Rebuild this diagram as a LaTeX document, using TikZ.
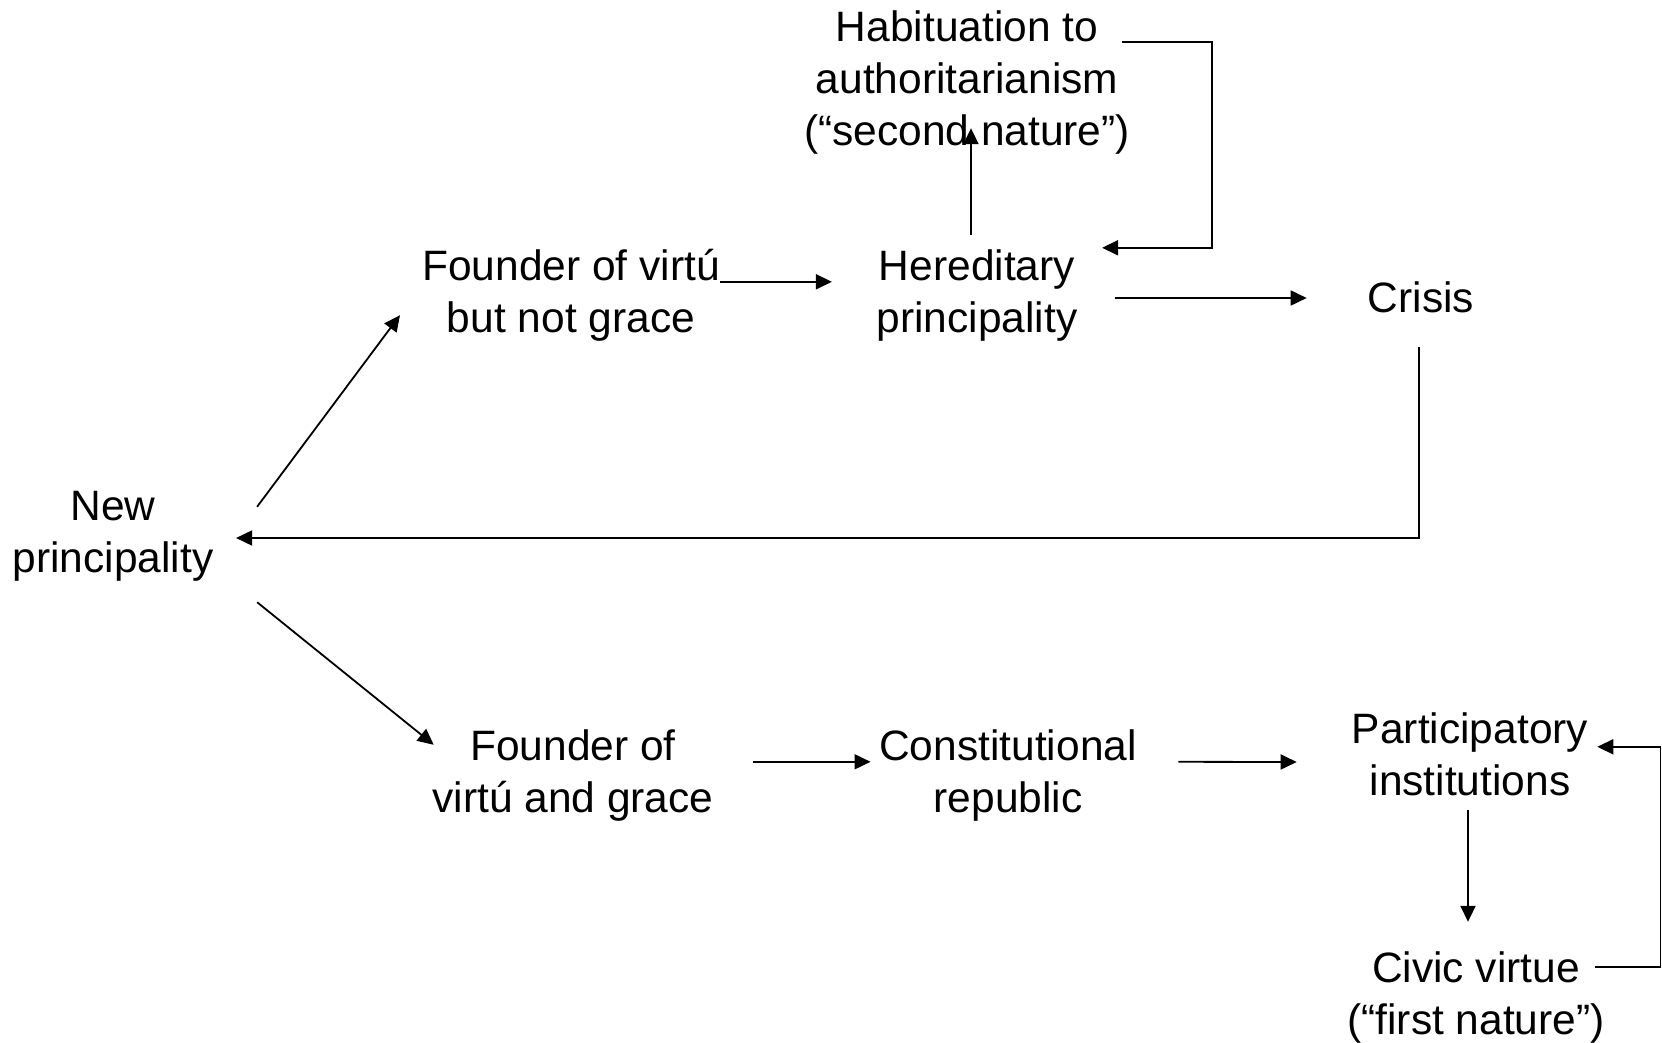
\documentclass[tikz,border=0pt]{standalone}
\usepackage{fontspec}
\setmainfont{Liberation Sans}
\usetikzlibrary{arrows.meta}
\newcommand{\lns}[1]{\begin{tabular}[t]{@{}c@{}}#1\end{tabular}}
\setlength{\tabcolsep}{0pt}
\begin{document}
\begin{tikzpicture}[x=1pt,y=-1pt,
  lbl/.style={anchor=base,inner sep=0pt,font=\fontsize{42.5}{52}\selectfont},
  arr/.style={line width=1.8pt,-{Triangle[length=16pt,width=15pt]}}]
\useasboundingbox (0,0) rectangle (1662,1043);
\node[lbl] (hab) at (967,42) {\lns{Habituation to\\authoritarianism\\(“second nature”)}};
\node[lbl] (fnd1) at (571,280) {\lns{Founder of virtú\\but not grace}};
\node[lbl] (her) at (977,280) {\lns{Hereditary\\principality}};
\node[lbl] (cri) at (1421,312) {\lns{Crisis}};
\node[lbl] (newp) at (113,520) {\lns{New\\principality}};
\node[lbl] (fnd2) at (573,760) {\lns{Founder of\\virtú and grace}};
\node[lbl] (con) at (1008,760) {\lns{Constitutional\\republic}};
\node[lbl] (par) at (1470,743) {\lns{Participatory\\institutions}};
\node[lbl] (civ) at (1476,982) {\lns{Civic virtue\\(“first nature”)}};

\draw[arr] ([shift={(0,38.4)}]fnd1.north east) -- ([shift={(-44.5,38.4)}]her.north west);
\draw[arr] ([shift={(-6,-8.6)}]her.north) -- ([shift={(4,-33.6)}]hab.south);
\draw[arr] ([shift={(-8,36.4)}]hab.north east) -- ++(90,0) |- ([shift={(24.5,4.4)}]her.north east);
\draw[arr] ([shift={(37.5,2.4)}]her.east) -- ([shift={(-61,-3.6)}]cri.west);
\draw[arr] ([shift={(-2,19.4)}]cri.south) |- ([shift={(22.5,2.4)}]newp.east);
\draw[arr] ([shift={(43.5,23.4)}]newp.north east) -- ([shift={(-22,-32.6)}]fnd1.south west);
\draw[arr] ([shift={(43.5,14.4)}]newp.south east) -- ([shift={(1.5,21.4)}]fnd2.north west);
\draw[arr] ([shift={(39.5,38.4)}]fnd2.north east) -- ([shift={(-8.5,38.4)}]con.north west);
\draw[arr] ([shift={(41.5,38.4)}]con.north east) -- ([shift={(-55,3.4)}]par.west);
\draw[arr] ([shift={(-2,-0.6)}]par.south) -- ([shift={(-8,-23.6)}]civ.north);
\draw[arr] ([shift={(-9.5,21.4)}]civ.north east) -- ++(65,0) |- ([shift={(9,40.4)}]par.north east);
\end{tikzpicture}
\end{document}
